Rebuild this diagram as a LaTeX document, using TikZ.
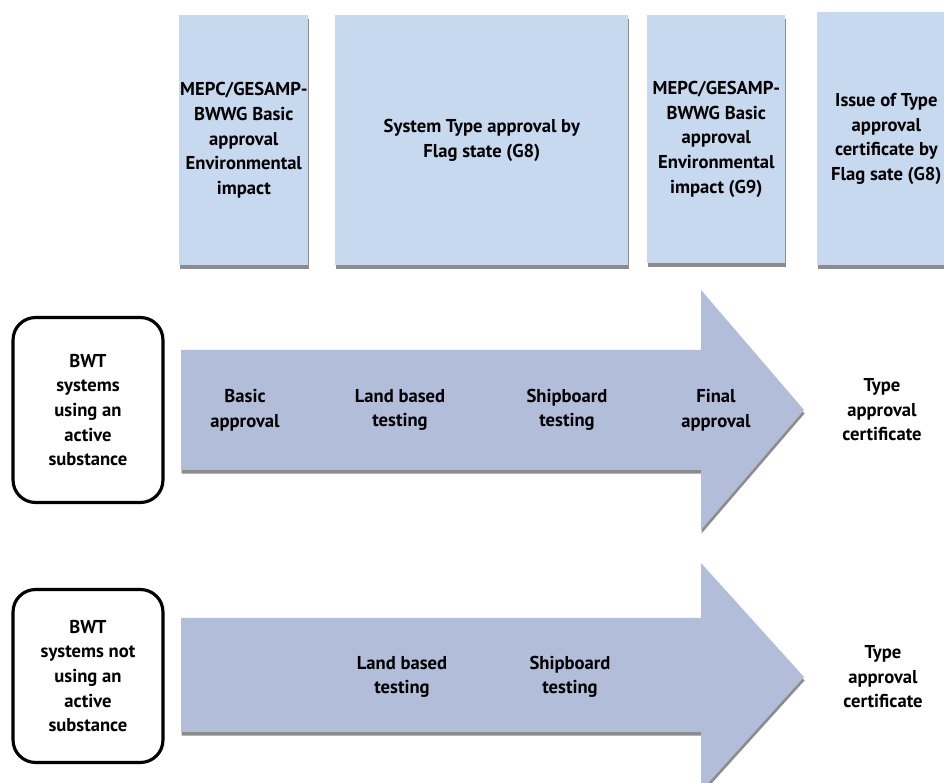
\documentclass[tikz,border=0pt]{standalone}
\usepackage{fontspec}
\setmainfont{PT Sans}
\usetikzlibrary{shadows}
\definecolor{paleblue}{HTML}{C6D9EE}
\definecolor{steelblue}{HTML}{B1BDD9}
\newcommand{\stagecolor}{paleblue}
\newcommand{\arrowcolor}{steelblue}
\newcommand{\shaftleft}{181}
\newcommand{\headbase}{701}
\newcommand{\headlen}{103}

\begin{document}
\begin{tikzpicture}[x=0.02cm, y=-0.02cm,
    font=\bfseries\fontsize{10.6}{14}\selectfont,
    boxshadow/.style={drop shadow={shadow xshift=0.3pt, shadow yshift=-2pt, opacity=0.45, fill=black}},
    stagebox/.style={fill=\stagecolor, boxshadow, align=center, inner sep=0pt, anchor=north west},
    systembox/.style={draw=black, line width=1.8pt, rounded corners=0.45cm, fill=white, align=center,
        minimum width=3cm, minimum height=3.7cm, inner sep=0pt},
    steplabel/.style={align=center}]
        \useasboundingbox (0,0) rectangle (944,783);

        % guideline boxes
        \node[stagebox, minimum width=2.58cm, minimum height=5cm] (mepcA) at (179,15)
            {MEPC/GESAMP-\\BWWG Basic\\approval\\Environmental\\impact};
        \node[stagebox, minimum width=5.86cm, minimum height=5cm] (typeappr) at (335,15)
            {System Type approval by\\Flag state (G8)};
        \node[stagebox, minimum width=2.76cm, minimum height=4.96cm] (mepcB) at (647,15)
            {MEPC/GESAMP-\\BWWG Basic\\approval\\Environmental\\impact (G9)};
        \node[stagebox, minimum width=2.76cm, minimum height=5.06cm] (issue) at (817,12)
            {Issue of Type\\approval\\certificate by\\Flag sate (G8)};

        % active substance row
        \coordinate (aS1) at (\shaftleft,350);
        \coordinate (aS2) at (\headbase,350);
        \coordinate (aH1) at (\headbase,290);
        \coordinate (aTip) at (\headbase+\headlen,410);
        \coordinate (aH2) at (\headbase,530);
        \coordinate (aS3) at (\headbase,470);
        \coordinate (aS4) at (\shaftleft,470);
        \fill[\arrowcolor, boxshadow] (aS1) -- (aS2) -- (aH1) -- (aTip) -- (aH2) -- (aS3) -- (aS4) -- cycle;

        \node[systembox] (active) at (88,410) {BWT\\systems\\using an\\active\\substance};
        \node[steplabel] (basicA) at (245,410) {Basic\\approval};
        \node[steplabel] (landA) at (400,410) {Land based\\testing};
        \node[steplabel] (shipA) at (567,410) {Shipboard\\testing};
        \node[steplabel] (finalA) at (716,410) {Final\\approval};
        \node[steplabel] (certA) at (882,410) {Type\\approval\\certificate};

        % no active substance row
        \coordinate (bS1) at (\shaftleft,618);
        \coordinate (bS2) at (\headbase,618);
        \coordinate (bH1) at (\headbase,563);
        \coordinate (bTip) at (\headbase+\headlen,677);
        \coordinate (bH2) at (\headbase,791);
        \coordinate (bS3) at (\headbase,732);
        \coordinate (bS4) at (\shaftleft,732);
        \fill[\arrowcolor, boxshadow] (bS1) -- (bS2) -- (bH1) -- (bTip) -- (bH2) -- (bS3) -- (bS4) -- cycle;

        \node[systembox, minimum height=3.46cm] (passive) at (88,676) {BWT\\systems not\\using an\\active\\substance};
        \node[steplabel] (landB) at (402,677) {Land based\\testing};
        \node[steplabel] (shipB) at (570,677) {Shipboard\\testing};
        \node[steplabel] (certB) at (883,677) {Type\\approval\\certificate};
    \end{tikzpicture}
\end{document}
